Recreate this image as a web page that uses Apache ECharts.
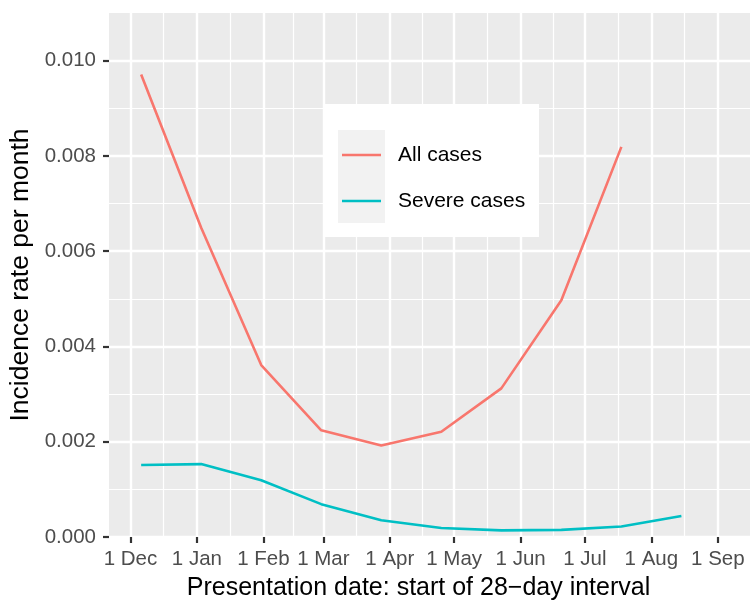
<!DOCTYPE html>
<html>
<head>
<meta charset="utf-8">
<script src="https://cdn.jsdelivr.net/npm/echarts@6/dist/echarts.min.js"></script>
<style>
  html, body { margin: 0; padding: 0; background: #ffffff; }
  #chart { width: 750px; height: 601px; }
</style>
</head>
<body>
<div id="chart"></div>
<script>
// ---- data ----
const intervalStarts = ['2020-12-06', '2021-01-03', '2021-01-31', '2021-02-28', '2021-03-28',
                        '2021-04-25', '2021-05-23', '2021-06-20', '2021-07-18', '2021-08-15'];
const allCases    = [0.00971, 0.00649, 0.00361, 0.00224, 0.00192, 0.00221, 0.00312, 0.00497, 0.00819];
const severeCases = [0.00151, 0.00153, 0.00119, 0.00069, 0.00035, 0.00019, 0.00014, 0.00015, 0.00022, 0.00044];
const seriesNames = ['All cases', 'Severe cases'];

const monthTicks  = ['2020-12-01', '2021-01-01', '2021-02-01', '2021-03-01', '2021-04-01',
                     '2021-05-01', '2021-06-01', '2021-07-01', '2021-08-01', '2021-09-01'];
const monthLabels = ['1 Dec', '1 Jan', '1 Feb', '1 Mar', '1 Apr', '1 May', '1 Jun', '1 Jul', '1 Aug', '1 Sep'];
const minorTicksX = ['2020-12-16 12:00', '2021-01-16 12:00', '2021-02-15 00:00', '2021-03-16 12:00',
                     '2021-04-16 00:00', '2021-05-16 12:00', '2021-06-16 00:00', '2021-07-16 12:00',
                     '2021-08-16 12:00'];
const yTicks = [0, 0.002, 0.004, 0.006, 0.008, 0.010];

// ---- helpers ----
const DAY = 86400000;
function toTime(s) {
  const [d, t] = s.split(' ');
  const [y, m, dd] = d.split('-').map(Number);
  let hh = 0, mm = 0;
  if (t) { [hh, mm] = t.split(':').map(Number); }
  return Date.UTC(y, m - 1, dd, hh, mm) / DAY;   // days since epoch
}
const monthTickVals = monthTicks.map(toTime);
function labelFor(v) {
  for (let i = 0; i < monthTickVals.length; i++) {
    if (Math.abs(monthTickVals[i] - v) < 1e-6) return monthLabels[i];
  }
  return '';
}

const FONT = "'Liberation Sans', Arial, Helvetica, sans-serif";
const chart = echarts.init(document.getElementById('chart'), null, { renderer: 'canvas' });

const gridLines = [];
monthTicks.forEach(s => gridLines.push({ xAxis: toTime(s), lineStyle: { width: 2.4 } }));
minorTicksX.forEach(s => gridLines.push({ xAxis: toTime(s), lineStyle: { width: 1.2 } }));

const option = {
  animation: false,
  textStyle: { fontFamily: FONT },
  grid: {
    left: 109, right: 0, top: 13, bottom: 64,
    outerBoundsMode: 'none',
    containLabel: false,
    show: true, backgroundColor: '#EBEBEB', borderWidth: 0
  },
  xAxis: {
    type: 'value',
    min: toTime('2020-11-21'),
    max: toTime('2021-09-16'),
    name: 'Presentation date: start of 28\u2212day interval',
    nameLocation: 'middle',
    nameGap: 39,
    nameTextStyle: { fontSize: 25, color: '#000000', fontFamily: FONT, padding: [0, 22, 0, 0] },
    axisLine: { show: false },
    axisTick: {
      show: true, length: 6, lineStyle: { color: '#333333', width: 2.2 },
      customValues: monthTickVals
    },
    axisLabel: {
      show: true, margin: 12, fontSize: 20.5, color: '#4D4D4D', fontFamily: FONT,
      customValues: monthTickVals,
      formatter: v => labelFor(v)
    },
    splitLine: { show: false },
    minorSplitLine: { show: false }
  },
  yAxis: {
    type: 'value',
    min: 0,
    max: 0.011,
    interval: 0.002,
    name: 'Incidence rate per month',
    nameLocation: 'middle',
    nameGap: 73,
    nameTextStyle: { fontSize: 26.5, color: '#000000', fontFamily: FONT },
    axisLine: { show: false },
    axisTick: {
      show: true, length: 6, lineStyle: { color: '#333333', width: 2.2 },
      customValues: yTicks
    },
    axisLabel: {
      show: true, margin: 13, fontSize: 20.5, color: '#4D4D4D', fontFamily: FONT,
      customValues: yTicks,
      formatter: v => v.toFixed(3)
    },
    splitLine: { show: true, lineStyle: { color: '#FFFFFF', width: 2.4 } },
    minorTick: { show: false, splitNumber: 2 },
    minorSplitLine: { show: true, lineStyle: { color: '#FFFFFF', width: 1.2 } }
  },
  legend: {
    show: true,
    orient: 'vertical',
    left: 342,
    top: 143,
    z: 20,
    data: seriesNames,
    icon: 'rect',
    itemWidth: 39,
    itemHeight: 2.6,
    itemGap: 22,
    backgroundColor: 'transparent',
    padding: 0,
    textStyle: { fontSize: 21, color: '#000000', fontFamily: FONT, lineHeight: 24, padding: [0, 0, 0, 12] }
  },
  graphic: {
    elements: [
      { type: 'rect', left: 323, top: 104, z: 15, silent: true,
        shape: { width: 216, height: 133 }, style: { fill: '#FFFFFF' } },
      { type: 'rect', left: 338, top: 130, z: 16, silent: true,
        shape: { width: 47, height: 93 }, style: { fill: '#F2F2F2' } }
    ]
  },
  series: [
    {
      name: 'gridlines',
      type: 'line',
      data: [],
      silent: true,
      z: 1,
      markLine: {
        silent: true,
        symbol: 'none',
        z: 1,
        label: { show: false },
        lineStyle: { color: '#FFFFFF', type: 'solid' },
        emphasis: { disabled: true },
        data: gridLines
      }
    },
    {
      name: seriesNames[0],
      type: 'line',
      z: 3,
      showSymbol: false,
      color: '#F8766D',
      lineStyle: { width: 2.6, color: '#F8766D' },
      data: allCases.map((v, i) => [toTime(intervalStarts[i]), v])
    },
    {
      name: seriesNames[1],
      type: 'line',
      z: 3,
      showSymbol: false,
      color: '#00BFC4',
      lineStyle: { width: 2.6, color: '#00BFC4' },
      data: severeCases.map((v, i) => [toTime(intervalStarts[i]), v])
    }
  ]
};
chart.setOption(option);
</script>
</body>
</html>
